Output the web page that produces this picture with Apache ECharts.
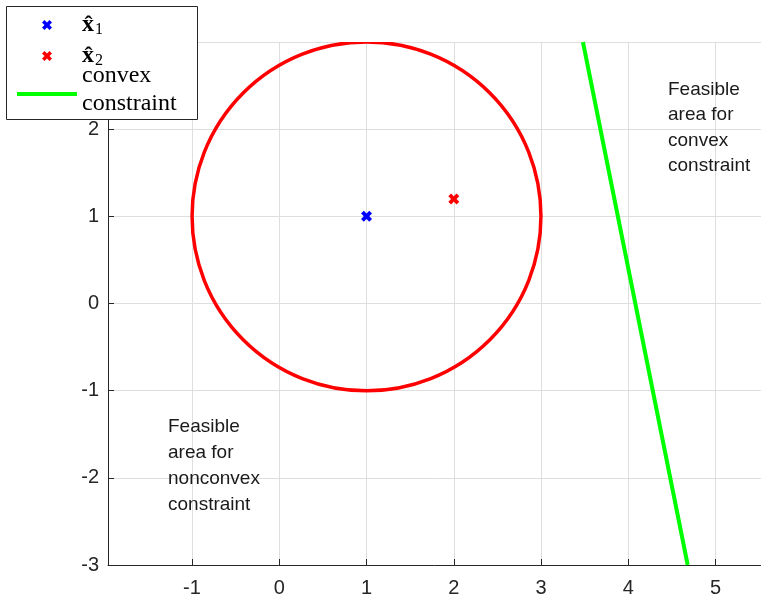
<!DOCTYPE html>
<html><head><meta charset="utf-8">
<script src="https://cdn.jsdelivr.net/npm/echarts@6/dist/echarts.min.js"></script>
<style>html,body{margin:0;padding:0;background:#fff}#c{width:761px;height:600px}</style>
</head><body><div id="c"></div>
<script>
// ---- data ----
const xTicks = [-1, 0, 1, 2, 3, 4, 5];
const yTicks = [-3, -2, -1, 0, 1, 2, 3];
const xRange = [-1.962, 5.52];
const yRange = [-3, 3];
const x1Point = [[1, 1]];
const x2Point = [[2, 1.2]];
const circleCenterX = [1];
const circleCenterY = [1];
const circleRadius = [2];
const convexLineX = [3.48, 4.68];
const convexLineY = [3, -3];
const seriesNames = ['x1', 'x2', 'convex constraint'];
const noteConvex = 'Feasible\narea for\nconvex\nconstraint';
const noteNonconvex = 'Feasible\narea for\nnonconvex\nconstraint';

const crossPath = 'path://M0,2.5 L2.5,0 L5,2.5 L7.5,0 L10,2.5 L7.5,5 L10,7.5 L7.5,10 L5,7.5 L2.5,10 L0,7.5 L2.5,5 Z';
// legend cross, centred in a 60x10 icon box (tiny anchors fix the box)
const crossLegendPath = 'path://M0,0 L0.01,0 L0.01,0.01 Z M60,10 L59.99,10 L59.99,9.99 Z ' +
  'M25,2.5 L27.5,0 L30,2.5 L32.5,0 L35,2.5 L32.5,5 L35,7.5 L32.5,10 L30,7.5 L27.5,10 L25,7.5 L27.5,5 Z';
const linePath = 'path://M0,0 L60,0 L60,4 L0,4 Z';
const axisColor = '#262626';
const gridColor = '#dedede';
const serif = '"Liberation Serif", "Times New Roman", serif';
const sans = '"Liberation Sans", Arial, Helvetica, sans-serif';

const chart = echarts.init(document.getElementById('c'), null, {renderer: 'canvas'});

const legendRich = {
  m: {fontFamily: serif, fontWeight: 'bold', fontSize: 24, color: '#000'},
  s: {fontFamily: serif, fontSize: 16, lineHeight: 18, padding: [10, 0, 0, 1], color: '#000'},
  c: {fontFamily: serif, fontSize: 24, lineHeight: 28, color: '#000'}
};
function legendText(name) {
  if (name === seriesNames[0]) return '{m|x\u0302}{s|1}';
  if (name === seriesNames[1]) return '{m|x\u0302}{s|2}';
  return '{c|convex}\n{c|constraint}';
}
function makeLegend(name, top, icon, extraText) {
  return {
    left: 17, top: top, orient: 'vertical', z: 6,
    itemWidth: 60, itemHeight: 10, padding: 0,
    selectedMode: false,
    textStyle: Object.assign({color: '#000', fontFamily: serif, fontSize: 24, rich: legendRich}, extraText || {}),
    formatter: legendText,
    data: [{name: name, icon: icon}]
  };
}

const option = {
  animation: false,
  backgroundColor: '#fff',
  grid: {left: 108, right: 0, top: 42, bottom: 35},
  xAxis: {
    type: 'value', min: xRange[0], max: xRange[1],
    axisLine: {onZero: false, lineStyle: {color: axisColor, width: 1}},
    axisTick: {inside: true, length: 6, customValues: xTicks, lineStyle: {color: axisColor}},
    axisLabel: {customValues: xTicks, color: axisColor, fontFamily: sans, fontSize: 20, margin: 13},
    splitLine: {show: true, lineStyle: {color: gridColor, width: 1}}
  },
  yAxis: {
    type: 'value', min: yRange[0], max: yRange[1], interval: 1,
    axisLine: {onZero: false, lineStyle: {color: axisColor, width: 1}},
    axisTick: {inside: true, length: 6, customValues: yTicks, lineStyle: {color: axisColor}},
    axisLabel: {customValues: yTicks, color: axisColor, fontFamily: sans, fontSize: 20, margin: 9},
    splitLine: {show: true, lineStyle: {color: gridColor, width: 1}}
  },
  legend: [
    makeLegend(seriesNames[0], 12, crossLegendPath),
    makeLegend(seriesNames[1], 43, crossLegendPath),
    makeLegend(seriesNames[2], 64, linePath, {padding: [0, 0, 8, 0]})
  ],
  graphic: [
    {type: 'rect', z: 5, silent: true,
     shape: {x: 6.5, y: 6.5, width: 191, height: 113},
     style: {fill: '#fff', stroke: axisColor, lineWidth: 1}},
    {type: 'text', left: 668, top: 77, z: 5,
     style: {text: noteConvex, font: '19px ' + sans, lineHeight: 25.5, fill: '#1a1a1a'}},
    {type: 'text', left: 168, top: 414, z: 5,
     style: {text: noteNonconvex, font: '19px ' + sans, lineHeight: 26, fill: '#1a1a1a'}}
  ],
  series: [
    {
      type: 'custom', name: 'circle', silent: true, clip: true,
      data: circleCenterX.map((x, i) => [x, circleCenterY[i], circleRadius[i]]),
      encode: {x: 0, y: 1},
      renderItem: function (params, api) {
        const c = api.coord([api.value(0), api.value(1)]);
        const s = api.size([api.value(2), api.value(2)]);
        return {
          type: 'circle',
          shape: {cx: c[0], cy: c[1], r: (s[0] + s[1]) / 2},
          style: {fill: 'none', stroke: '#ff0000', lineWidth: 3.5}
        };
      }
    },
    {
      type: 'line', name: seriesNames[2], data: convexLineX.map((x, i) => [x, convexLineY[i]]),
      symbol: 'none', color: '#00ff00', lineStyle: {color: '#00ff00', width: 4}, z: 3
    },
    {
      type: 'scatter', name: seriesNames[0], data: x1Point, symbol: crossPath, symbolSize: 11,
      symbolKeepAspect: true, itemStyle: {color: '#0000ff', opacity: 1}, z: 4
    },
    {
      type: 'scatter', name: seriesNames[1], data: x2Point, symbol: crossPath, symbolSize: 11,
      symbolKeepAspect: true, itemStyle: {color: '#ff0000', opacity: 1}, z: 4
    }
  ]
};
chart.setOption(option);
</script>
</body></html>
